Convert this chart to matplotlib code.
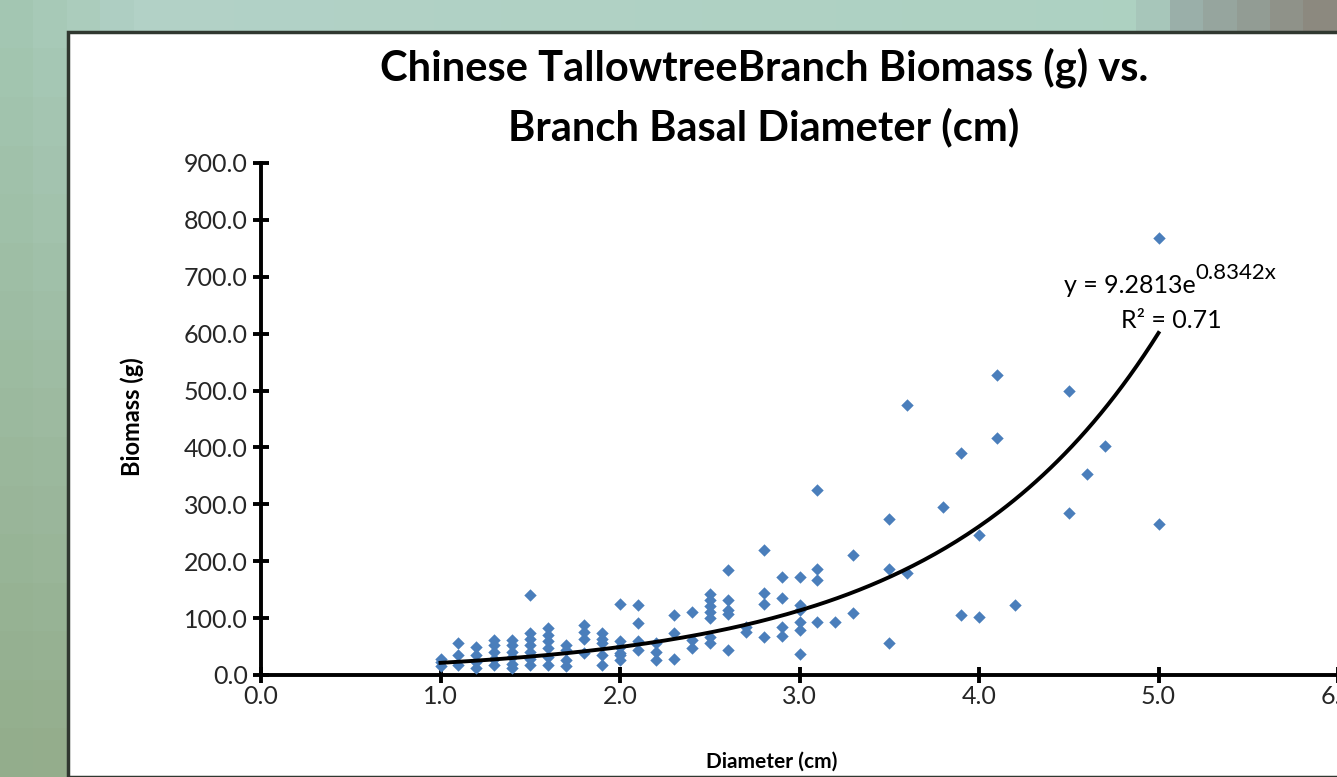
import numpy as np
import matplotlib.pyplot as plt
from matplotlib.patches import Rectangle

plt.rcParams['font.family'] = ['Lato', 'DejaVu Sans']

# branch basal diameter (cm) and biomass (g)
diameter = [1.0, 1.0, 1.0,
            1.1, 1.1, 1.1,
            1.2, 1.2, 1.2, 1.2,
            1.3, 1.3, 1.3, 1.3, 1.3,
            1.4, 1.4, 1.4, 1.4, 1.4, 1.4,
            1.5, 1.5, 1.5, 1.5, 1.5, 1.5, 1.5,
            1.6, 1.6, 1.6, 1.6, 1.6, 1.6,
            1.7, 1.7, 1.7, 1.7,
            1.8, 1.8, 1.8, 1.8,
            1.9, 1.9, 1.9, 1.9, 1.9,
            2.0, 2.0, 2.0, 2.0, 2.0, 2.0,
            2.1, 2.1, 2.1, 2.1,
            2.2, 2.2, 2.2,
            2.3, 2.3, 2.3,
            2.4, 2.4, 2.4,
            2.5, 2.5, 2.5, 2.5, 2.5, 2.5, 2.5,
            2.6, 2.6, 2.6, 2.6, 2.6,
            2.7, 2.7,
            2.8, 2.8, 2.8, 2.8,
            2.9, 2.9, 2.9, 2.9,
            3.0, 3.0, 3.0, 3.0, 3.0, 3.0,
            3.1, 3.1, 3.1, 3.1,
            3.2,
            3.3, 3.3,
            3.5, 3.5, 3.5,
            3.6, 3.6,
            3.8,
            3.9, 3.9,
            4.0, 4.0,
            4.1, 4.1,
            4.2,
            4.5, 4.5,
            4.6,
            4.7,
            5.0, 5.0]
biomass = [29, 22, 15,
           56, 35, 18,
           50, 35, 23, 12,
           62, 53, 41, 29, 18,
           62, 53, 41, 32, 20, 12,
           141, 73, 64, 53, 41, 29, 18,
           82, 70, 59, 47, 32, 18,
           53, 44, 26, 16,
           88, 76, 64, 38,
           73, 64, 56, 35, 18,
           125, 59, 50, 38, 26, 35,
           123, 92, 59, 44,
           56, 41, 26,
           105, 73, 29,
           111, 62, 47,
           142, 131, 121, 111, 101, 67, 56,
           185, 131, 114, 107, 44,
           85, 76,
           220, 145, 125, 67,
           172, 135, 85, 69,
           172, 123, 114, 94, 79, 37,
           326, 187, 167, 94,
           94,
           211, 109,
           275, 186, 57,
           475, 180,
           296,
           391, 105,
           246, 102,
           527, 417,
           123,
           500, 284,
           354,
           402,
           768, 265]

# exponential trendline as printed on the chart
fit_a = 9.2813
fit_b = 0.8342
fit_r2 = 0.71

fig = plt.figure(figsize=(13.37, 7.77), dpi=100)

# greenish background behind the chart panel
bg = fig.add_axes([0, 0, 1, 1])
u = np.linspace(0, 1, 40)
top = np.stack([np.interp(u, [0, 0.1, 0.86, 0.9, 1], c) for c in
                ([0.64, 0.70, 0.68, 0.60, 0.55],
                 [0.78, 0.82, 0.82, 0.68, 0.54],
                 [0.70, 0.78, 0.76, 0.66, 0.50])], axis=-1)
bot = np.stack([np.interp(u, [0, 1], c) for c in
                ([0.58, 0.62], [0.68, 0.72], [0.55, 0.62])], axis=-1)
v = np.linspace(0, 1, 16)[:, None, None]
img = (1 - v) * top[None] + v * bot[None]
bg.imshow(img, aspect='auto', interpolation='nearest', extent=[0, 1, 0, 1])
bg.add_patch(Rectangle((68 / 1337, 0), 1.1, (777 - 32) / 777, facecolor='white',
                       edgecolor='#303830', linewidth=2.5))
bg.set_xlim(0, 1)
bg.set_ylim(0, 1)
bg.axis('off')

ax = fig.add_axes([261 / 1337, 102 / 777, 1077 / 1337, 512 / 777])
ax.set_facecolor('none')
ax.scatter(diameter, biomass, marker='D', s=40, color='#4a7ebb', zorder=3, linewidths=0)

xs = np.linspace(1.0, 5.0, 200)
ax.plot(xs, fit_a * np.exp(fit_b * xs), color='black', lw=2.8, zorder=4)

ax.set_xlim(0, 6)
ax.set_ylim(0, 900)
ax.set_xticks(np.arange(0, 7, 1.0))
ax.set_yticks(np.arange(0, 1000, 100.0))
ax.set_xticklabels([f'{t:.1f}' for t in np.arange(0, 7, 1.0)])
ax.set_yticklabels([f'{t:.1f}' for t in np.arange(0, 1000, 100.0)])
for s in ['top', 'right']:
    ax.spines[s].set_visible(False)
for s in ['left', 'bottom']:
    ax.spines[s].set_linewidth(2.8)
ax.tick_params(direction='inout', length=11, width=2.8, labelsize=18,
               labelcolor='#262626')
ax.tick_params(axis='x', pad=2)
ax.tick_params(axis='y', pad=4)

ax.set_xlabel('Diameter (cm)', fontsize=15, fontweight='bold')
ax.xaxis.set_label_coords(0.4745, -0.150)
ax.set_ylabel('Biomass (g)', fontsize=17, fontweight='bold')
ax.yaxis.set_label_coords(-0.1086, 0.504)

fig.text(764 / 1337, 1 - 68 / 777, 'Chinese TallowtreeBranch Biomass (g) vs.',
         ha='center', va='center', fontsize=30, fontweight='bold')
fig.text(764 / 1337, 1 - 127 / 777, 'Branch Basal Diameter (cm)',
         ha='center', va='center', fontsize=30, fontweight='bold')

# trendline equation: base part plus a raised exponent
ax.text(5.206, 685, 'y = 9.2813e', fontsize=18, ha='right', va='center')
ax.annotate('0.8342x', xy=(5.206, 685), xytext=(0, 9), textcoords='offset points',
            fontsize=16, ha='left', va='center')
ax.text(5.07, 624, f'R² = {fit_r2}', fontsize=18, ha='center', va='center')

fig.savefig('out.png', dpi=100)
